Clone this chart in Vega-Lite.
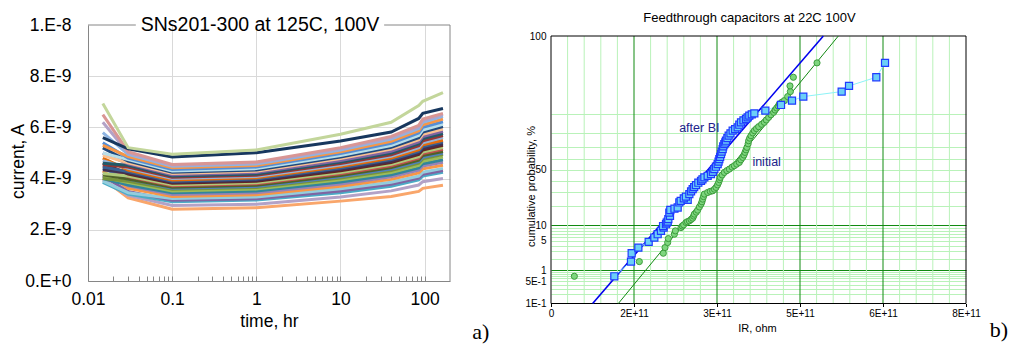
{
  "$schema": "https://vega.github.io/schema/vega-lite/v6.json",
  "padding": {"left": 9, "top": 12, "right": 5, "bottom": 5},
  "background": "white",
  "config": {"view": {"stroke": null}, "font": "Liberation Sans"},
  "spacing": 34,
  "bounds": "full",
  "resolve": {"scale": {"color": "independent"}},
  "datasets": {
    "currents": [
      {"s":"01","t":0.015,"i":4.00e-9},{"s":"01","t":0.03,"i":3.25e-9},{"s":"01","t":0.1,"i":2.80e-9},{"s":"01","t":1,"i":2.86e-9},{"s":"01","t":10,"i":3.12e-9},{"s":"01","t":40,"i":3.30e-9},{"s":"01","t":85,"i":3.50e-9},{"s":"01","t":95,"i":3.62e-9},{"s":"01","t":165,"i":3.74e-9},
      {"s":"02","t":0.015,"i":3.95e-9},{"s":"02","t":0.03,"i":3.35e-9},{"s":"02","t":0.1,"i":2.95e-9},{"s":"02","t":1,"i":3.00e-9},{"s":"02","t":10,"i":3.28e-9},{"s":"02","t":40,"i":3.52e-9},{"s":"02","t":85,"i":3.75e-9},{"s":"02","t":95,"i":3.88e-9},{"s":"02","t":165,"i":4.00e-9},
      {"s":"03","t":0.015,"i":3.85e-9},{"s":"03","t":0.03,"i":3.40e-9},{"s":"03","t":0.1,"i":3.10e-9},{"s":"03","t":1,"i":3.16e-9},{"s":"03","t":10,"i":3.45e-9},{"s":"03","t":40,"i":3.70e-9},{"s":"03","t":85,"i":3.95e-9},{"s":"03","t":95,"i":4.10e-9},{"s":"03","t":165,"i":4.25e-9},
      {"s":"04","t":0.015,"i":4.10e-9},{"s":"04","t":0.03,"i":3.50e-9},{"s":"04","t":0.1,"i":3.15e-9},{"s":"04","t":1,"i":3.21e-9},{"s":"04","t":10,"i":3.52e-9},{"s":"04","t":40,"i":3.78e-9},{"s":"04","t":85,"i":4.02e-9},{"s":"04","t":95,"i":4.17e-9},{"s":"04","t":165,"i":4.32e-9},
      {"s":"05","t":0.015,"i":3.90e-9},{"s":"05","t":0.03,"i":3.45e-9},{"s":"05","t":0.1,"i":3.22e-9},{"s":"05","t":1,"i":3.28e-9},{"s":"05","t":10,"i":3.60e-9},{"s":"05","t":40,"i":3.86e-9},{"s":"05","t":85,"i":4.10e-9},{"s":"05","t":95,"i":4.25e-9},{"s":"05","t":165,"i":4.40e-9},
      {"s":"06","t":0.015,"i":4.30e-9},{"s":"06","t":0.03,"i":3.62e-9},{"s":"06","t":0.1,"i":3.30e-9},{"s":"06","t":1,"i":3.37e-9},{"s":"06","t":10,"i":3.70e-9},{"s":"06","t":40,"i":3.97e-9},{"s":"06","t":85,"i":4.22e-9},{"s":"06","t":95,"i":4.38e-9},{"s":"06","t":165,"i":4.52e-9},
      {"s":"07","t":0.015,"i":4.20e-9},{"s":"07","t":0.03,"i":3.72e-9},{"s":"07","t":0.1,"i":3.38e-9},{"s":"07","t":1,"i":3.45e-9},{"s":"07","t":10,"i":3.79e-9},{"s":"07","t":40,"i":4.07e-9},{"s":"07","t":85,"i":4.33e-9},{"s":"07","t":95,"i":4.49e-9},{"s":"07","t":165,"i":4.64e-9},
      {"s":"08","t":0.015,"i":4.00e-9},{"s":"08","t":0.03,"i":3.75e-9},{"s":"08","t":0.1,"i":3.45e-9},{"s":"08","t":1,"i":3.52e-9},{"s":"08","t":10,"i":3.87e-9},{"s":"08","t":40,"i":4.15e-9},{"s":"08","t":85,"i":4.42e-9},{"s":"08","t":95,"i":4.58e-9},{"s":"08","t":165,"i":4.74e-9},
      {"s":"09","t":0.015,"i":4.05e-9},{"s":"09","t":0.03,"i":3.85e-9},{"s":"09","t":0.1,"i":3.52e-9},{"s":"09","t":1,"i":3.59e-9},{"s":"09","t":10,"i":3.95e-9},{"s":"09","t":40,"i":4.24e-9},{"s":"09","t":85,"i":4.52e-9},{"s":"09","t":95,"i":4.68e-9},{"s":"09","t":165,"i":4.84e-9},
      {"s":"10","t":0.015,"i":4.00e-9},{"s":"10","t":0.03,"i":3.90e-9},{"s":"10","t":0.1,"i":3.58e-9},{"s":"10","t":1,"i":3.65e-9},{"s":"10","t":10,"i":4.02e-9},{"s":"10","t":40,"i":4.32e-9},{"s":"10","t":85,"i":4.60e-9},{"s":"10","t":95,"i":4.77e-9},{"s":"10","t":165,"i":4.94e-9},
      {"s":"11","t":0.015,"i":4.40e-9},{"s":"11","t":0.03,"i":3.98e-9},{"s":"11","t":0.1,"i":3.62e-9},{"s":"11","t":1,"i":3.69e-9},{"s":"11","t":10,"i":4.07e-9},{"s":"11","t":40,"i":4.37e-9},{"s":"11","t":85,"i":4.66e-9},{"s":"11","t":95,"i":4.83e-9},{"s":"11","t":165,"i":5.00e-9},
      {"s":"12","t":0.015,"i":4.15e-9},{"s":"12","t":0.03,"i":3.98e-9},{"s":"12","t":0.1,"i":3.66e-9},{"s":"12","t":1,"i":3.74e-9},{"s":"12","t":10,"i":4.12e-9},{"s":"12","t":40,"i":4.43e-9},{"s":"12","t":85,"i":4.72e-9},{"s":"12","t":95,"i":4.90e-9},{"s":"12","t":165,"i":5.06e-9},
      {"s":"13","t":0.015,"i":4.50e-9},{"s":"13","t":0.03,"i":4.08e-9},{"s":"13","t":0.1,"i":3.72e-9},{"s":"13","t":1,"i":3.80e-9},{"s":"13","t":10,"i":4.19e-9},{"s":"13","t":40,"i":4.50e-9},{"s":"13","t":85,"i":4.80e-9},{"s":"13","t":95,"i":4.98e-9},{"s":"13","t":165,"i":5.15e-9},
      {"s":"14","t":0.015,"i":4.20e-9},{"s":"14","t":0.03,"i":4.10e-9},{"s":"14","t":0.1,"i":3.76e-9},{"s":"14","t":1,"i":3.84e-9},{"s":"14","t":10,"i":4.24e-9},{"s":"14","t":40,"i":4.56e-9},{"s":"14","t":85,"i":4.86e-9},{"s":"14","t":95,"i":5.04e-9},{"s":"14","t":165,"i":5.21e-9},
      {"s":"15","t":0.015,"i":4.60e-9},{"s":"15","t":0.03,"i":4.18e-9},{"s":"15","t":0.1,"i":3.82e-9},{"s":"15","t":1,"i":3.90e-9},{"s":"15","t":10,"i":4.31e-9},{"s":"15","t":40,"i":4.63e-9},{"s":"15","t":85,"i":4.94e-9},{"s":"15","t":95,"i":5.12e-9},{"s":"15","t":165,"i":5.30e-9},
      {"s":"16","t":0.015,"i":4.35e-9},{"s":"16","t":0.03,"i":4.22e-9},{"s":"16","t":0.1,"i":3.86e-9},{"s":"16","t":1,"i":3.94e-9},{"s":"16","t":10,"i":4.36e-9},{"s":"16","t":40,"i":4.68e-9},{"s":"16","t":85,"i":5.00e-9},{"s":"16","t":95,"i":5.18e-9},{"s":"16","t":165,"i":5.36e-9},
      {"s":"17","t":0.015,"i":4.45e-9},{"s":"17","t":0.03,"i":4.28e-9},{"s":"17","t":0.1,"i":3.90e-9},{"s":"17","t":1,"i":3.98e-9},{"s":"17","t":10,"i":4.41e-9},{"s":"17","t":40,"i":4.74e-9},{"s":"17","t":85,"i":5.06e-9},{"s":"17","t":95,"i":5.25e-9},{"s":"17","t":165,"i":5.44e-9},
      {"s":"18","t":0.015,"i":4.80e-9},{"s":"18","t":0.03,"i":4.33e-9},{"s":"18","t":0.1,"i":3.95e-9},{"s":"18","t":1,"i":4.03e-9},{"s":"18","t":10,"i":4.47e-9},{"s":"18","t":40,"i":4.80e-9},{"s":"18","t":85,"i":5.13e-9},{"s":"18","t":95,"i":5.32e-9},{"s":"18","t":165,"i":5.50e-9},
      {"s":"19","t":0.015,"i":4.70e-9},{"s":"19","t":0.03,"i":4.40e-9},{"s":"19","t":0.1,"i":4.00e-9},{"s":"19","t":1,"i":4.08e-9},{"s":"19","t":10,"i":4.53e-9},{"s":"19","t":40,"i":4.87e-9},{"s":"19","t":85,"i":5.21e-9},{"s":"19","t":95,"i":5.40e-9},{"s":"19","t":165,"i":5.60e-9},
      {"s":"20","t":0.015,"i":4.55e-9},{"s":"20","t":0.03,"i":4.45e-9},{"s":"20","t":0.1,"i":4.05e-9},{"s":"20","t":1,"i":4.13e-9},{"s":"20","t":10,"i":4.59e-9},{"s":"20","t":40,"i":4.93e-9},{"s":"20","t":85,"i":5.28e-9},{"s":"20","t":95,"i":5.48e-9},{"s":"20","t":165,"i":5.68e-9},
      {"s":"21","t":0.015,"i":4.60e-9},{"s":"21","t":0.03,"i":4.52e-9},{"s":"21","t":0.1,"i":4.10e-9},{"s":"21","t":1,"i":4.18e-9},{"s":"21","t":10,"i":4.65e-9},{"s":"21","t":40,"i":5.00e-9},{"s":"21","t":85,"i":5.36e-9},{"s":"21","t":95,"i":5.56e-9},{"s":"21","t":165,"i":5.76e-9},
      {"s":"22","t":0.015,"i":5.00e-9},{"s":"22","t":0.03,"i":4.58e-9},{"s":"22","t":0.1,"i":4.15e-9},{"s":"22","t":1,"i":4.24e-9},{"s":"22","t":10,"i":4.71e-9},{"s":"22","t":40,"i":5.07e-9},{"s":"22","t":85,"i":5.43e-9},{"s":"22","t":95,"i":5.64e-9},{"s":"22","t":165,"i":5.85e-9},
      {"s":"23","t":0.015,"i":4.90e-9},{"s":"23","t":0.03,"i":4.62e-9},{"s":"23","t":0.1,"i":4.20e-9},{"s":"23","t":1,"i":4.29e-9},{"s":"23","t":10,"i":4.78e-9},{"s":"23","t":40,"i":5.15e-9},{"s":"23","t":85,"i":5.52e-9},{"s":"23","t":95,"i":5.73e-9},{"s":"23","t":165,"i":5.94e-9},
      {"s":"24","t":0.015,"i":5.20e-9},{"s":"24","t":0.03,"i":4.68e-9},{"s":"24","t":0.1,"i":4.25e-9},{"s":"24","t":1,"i":4.34e-9},{"s":"24","t":10,"i":4.84e-9},{"s":"24","t":40,"i":5.22e-9},{"s":"24","t":85,"i":5.60e-9},{"s":"24","t":95,"i":5.82e-9},{"s":"24","t":165,"i":6.03e-9},
      {"s":"25","t":0.015,"i":5.00e-9},{"s":"25","t":0.03,"i":4.74e-9},{"s":"25","t":0.1,"i":4.30e-9},{"s":"25","t":1,"i":4.39e-9},{"s":"25","t":10,"i":4.90e-9},{"s":"25","t":40,"i":5.29e-9},{"s":"25","t":85,"i":5.68e-9},{"s":"25","t":95,"i":5.90e-9},{"s":"25","t":165,"i":6.12e-9},
      {"s":"26","t":0.015,"i":5.40e-9},{"s":"26","t":0.03,"i":4.80e-9},{"s":"26","t":0.1,"i":4.36e-9},{"s":"26","t":1,"i":4.45e-9},{"s":"26","t":10,"i":4.98e-9},{"s":"26","t":40,"i":5.38e-9},{"s":"26","t":85,"i":5.78e-9},{"s":"26","t":95,"i":6.00e-9},{"s":"26","t":165,"i":6.22e-9},
      {"s":"27","t":0.015,"i":5.30e-9},{"s":"27","t":0.03,"i":4.86e-9},{"s":"27","t":0.1,"i":4.42e-9},{"s":"27","t":1,"i":4.51e-9},{"s":"27","t":10,"i":5.05e-9},{"s":"27","t":40,"i":5.46e-9},{"s":"27","t":85,"i":5.87e-9},{"s":"27","t":95,"i":6.10e-9},{"s":"27","t":165,"i":6.33e-9},
      {"s":"28","t":0.015,"i":5.80e-9},{"s":"28","t":0.03,"i":4.95e-9},{"s":"28","t":0.1,"i":4.48e-9},{"s":"28","t":1,"i":4.57e-9},{"s":"28","t":10,"i":5.12e-9},{"s":"28","t":40,"i":5.54e-9},{"s":"28","t":85,"i":5.96e-9},{"s":"28","t":95,"i":6.20e-9},{"s":"28","t":165,"i":6.43e-9},
      {"s":"29","t":0.015,"i":6.20e-9},{"s":"29","t":0.03,"i":5.00e-9},{"s":"29","t":0.1,"i":4.52e-9},{"s":"29","t":1,"i":4.62e-9},{"s":"29","t":10,"i":5.17e-9},{"s":"29","t":40,"i":5.60e-9},{"s":"29","t":85,"i":6.02e-9},{"s":"29","t":95,"i":6.27e-9},{"s":"29","t":165,"i":6.50e-9},
      {"s":"30","t":0.015,"i":6.50e-9},{"s":"30","t":0.03,"i":5.05e-9},{"s":"30","t":0.1,"i":4.55e-9},{"s":"30","t":1,"i":4.65e-9},{"s":"30","t":10,"i":5.21e-9},{"s":"30","t":40,"i":5.65e-9},{"s":"30","t":85,"i":6.08e-9},{"s":"30","t":95,"i":6.33e-9},{"s":"30","t":165,"i":6.55e-9},
      {"s":"31","t":0.015,"i":5.60e-9},{"s":"31","t":0.03,"i":5.16e-9},{"s":"31","t":0.1,"i":4.84e-9},{"s":"31","t":1,"i":5.01e-9},{"s":"31","t":10,"i":5.47e-9},{"s":"31","t":40,"i":5.82e-9},{"s":"31","t":85,"i":6.35e-9},{"s":"31","t":95,"i":6.55e-9},{"s":"31","t":165,"i":6.74e-9},
      {"s":"32","t":0.015,"i":6.93e-9},{"s":"32","t":0.03,"i":5.21e-9},{"s":"32","t":0.1,"i":4.95e-9},{"s":"32","t":1,"i":5.12e-9},{"s":"32","t":10,"i":5.73e-9},{"s":"32","t":40,"i":6.20e-9},{"s":"32","t":85,"i":6.85e-9},{"s":"32","t":95,"i":7.02e-9},{"s":"32","t":165,"i":7.36e-9}
    ],
    "border": [
      {"t":0.01,"t2":0.037,"i":1e-8,"i2":1e-8},
      {"t":33,"t2":200,"i":1e-8,"i2":1e-8},
      {"t":200,"t2":200,"i":0,"i2":1e-8}
    ],
    "ltitle": [{"t":1.104,"i":1e-8,"label":"SNs201-300 at 125C, 100V"}],
    "alabel": [{"t":464.8,"i":-2.0e-9,"label":"a)"}],
    "vminor": [{"r":3.2e10,"z":-3.0902,"z2":3.0902},{"r":6.4e10,"z":-3.0902,"z2":3.0902},{"r":9.6e10,"z":-3.0902,"z2":3.0902},{"r":1.28e11,"z":-3.0902,"z2":3.0902},{"r":1.92e11,"z":-3.0902,"z2":3.0902},{"r":2.24e11,"z":-3.0902,"z2":3.0902},{"r":2.56e11,"z":-3.0902,"z2":3.0902},{"r":2.88e11,"z":-3.0902,"z2":3.0902},{"r":3.52e11,"z":-3.0902,"z2":3.0902},{"r":3.84e11,"z":-3.0902,"z2":3.0902},{"r":4.16e11,"z":-3.0902,"z2":3.0902},{"r":4.48e11,"z":-3.0902,"z2":3.0902},{"r":5.12e11,"z":-3.0902,"z2":3.0902},{"r":5.44e11,"z":-3.0902,"z2":3.0902},{"r":5.76e11,"z":-3.0902,"z2":3.0902},{"r":6.08e11,"z":-3.0902,"z2":3.0902},{"r":6.72e11,"z":-3.0902,"z2":3.0902},{"r":7.04e11,"z":-3.0902,"z2":3.0902},{"r":7.36e11,"z":-3.0902,"z2":3.0902},{"r":7.68e11,"z":-3.0902,"z2":3.0902}],
    "vmajor": [{"r":1.6e11,"z":-3.0902,"z2":3.0902},{"r":3.2e11,"z":-3.0902,"z2":3.0902},{"r":4.8e11,"z":-3.0902,"z2":3.0902},{"r":6.4e11,"z":-3.0902,"z2":3.0902}],
    "frame": [
      {"r":0,"r2":0,"z":-3.0902,"z2":3.0902},
      {"r":8e11,"r2":8e11,"z":-3.0902,"z2":3.0902},
      {"r":0,"r2":8e11,"z":3.0902,"z2":3.0902},
      {"r":0,"r2":8e11,"z":-3.0902,"z2":-3.0902}
    ],
    "fitbi": [{"r":8.03e10,"z":-3.0902},{"r":5.25e11,"z":3.0902}],
    "fitinit": [{"r":1.298e11,"z":-3.0902},{"r":5.539e11,"z":3.0902}],
    "bi": [
      {"r":1.221e11,"z":-2.461},{"r":1.542e11,"z":-2.122},{"r":1.555e11,"z":-1.929},{"r":1.684e11,"z":-1.798},{"r":1.883e11,"z":-1.667},{"r":1.992e11,"z":-1.566},{"r":2.056e11,"z":-1.489},{"r":2.120e11,"z":-1.412},{"r":2.172e11,"z":-1.335},{"r":2.160e11,"z":-1.300},{"r":2.217e11,"z":-1.258},{"r":2.230e11,"z":-1.219},{"r":2.250e11,"z":-1.200},{"r":2.262e11,"z":-1.142},{"r":2.294e11,"z":-1.065},{"r":2.281e11,"z":-0.988},{"r":2.300e11,"z":-0.930},{"r":2.380e11,"z":-0.900},{"r":2.442e11,"z":-0.872},{"r":2.474e11,"z":-0.756},{"r":2.500e11,"z":-0.720},{"r":2.635e11,"z":-0.694},{"r":2.560e11,"z":-0.660},{"r":2.600e11,"z":-0.620},{"r":2.667e11,"z":-0.563},{"r":2.700e11,"z":-0.500},{"r":2.731e11,"z":-0.448},{"r":2.760e11,"z":-0.400},{"r":2.795e11,"z":-0.355},{"r":2.840e11,"z":-0.300},{"r":2.892e11,"z":-0.255},{"r":2.920e11,"z":-0.220},{"r":2.956e11,"z":-0.177},{"r":3.020e11,"z":-0.140},{"r":3.084e11,"z":-0.100},{"r":3.120e11,"z":-0.050},{"r":3.149e11,"z":0.015},{"r":3.180e11,"z":0.070},{"r":3.213e11,"z":0.131},{"r":3.230e11,"z":0.190},{"r":3.245e11,"z":0.247},{"r":3.260e11,"z":0.300},{"r":3.277e11,"z":0.363},{"r":3.290e11,"z":0.420},{"r":3.309e11,"z":0.478},{"r":3.320e11,"z":0.540},{"r":3.341e11,"z":0.594},{"r":3.360e11,"z":0.630},{"r":3.373e11,"z":0.671},{"r":3.400e11,"z":0.730},{"r":3.425e11,"z":0.787},{"r":3.460e11,"z":0.840},{"r":3.502e11,"z":0.903},{"r":3.550e11,"z":0.940},{"r":3.598e11,"z":0.980},{"r":3.630e11,"z":1.040},{"r":3.663e11,"z":1.096},{"r":3.710e11,"z":1.140},{"r":3.759e11,"z":1.173},{"r":3.790e11,"z":1.210},{"r":3.823e11,"z":1.250},{"r":3.870e11,"z":1.280},{"r":3.920e11,"z":1.304},{"r":4.132e11,"z":1.366},{"r":4.434e11,"z":1.497},{"r":4.646e11,"z":1.597},{"r":4.864e11,"z":1.690},{"r":5.603e11,"z":1.806},{"r":5.745e11,"z":1.937},{"r":6.271e11,"z":2.137},{"r":6.439e11,"z":2.469}
    ],
    "init": [
      {"r":0.450e11,"z":-2.461},{"r":1.703e11,"z":-2.122},{"r":2.165e11,"z":-1.929},{"r":2.198e11,"z":-1.798},{"r":2.249e11,"z":-1.682},{"r":2.262e11,"z":-1.590},{"r":2.378e11,"z":-1.489},{"r":2.397e11,"z":-1.412},{"r":2.506e11,"z":-1.335},{"r":2.530e11,"z":-1.300},{"r":2.557e11,"z":-1.273},{"r":2.602e11,"z":-1.219},{"r":2.630e11,"z":-1.200},{"r":2.667e11,"z":-1.181},{"r":2.700e11,"z":-1.150},{"r":2.731e11,"z":-1.119},{"r":2.750e11,"z":-1.070},{"r":2.763e11,"z":-1.026},{"r":2.800e11,"z":-0.980},{"r":2.827e11,"z":-0.934},{"r":2.860e11,"z":-0.860},{"r":2.892e11,"z":-0.795},{"r":2.910e11,"z":-0.740},{"r":2.924e11,"z":-0.679},{"r":2.940e11,"z":-0.620},{"r":2.956e11,"z":-0.563},{"r":3.020e11,"z":-0.525},{"r":3.070e11,"z":-0.500},{"r":3.116e11,"z":-0.486},{"r":3.150e11,"z":-0.450},{"r":3.181e11,"z":-0.409},{"r":3.210e11,"z":-0.350},{"r":3.232e11,"z":-0.293},{"r":3.250e11,"z":-0.230},{"r":3.264e11,"z":-0.177},{"r":3.300e11,"z":-0.120},{"r":3.341e11,"z":-0.062},{"r":3.390e11,"z":-0.020},{"r":3.438e11,"z":0.015},{"r":3.490e11,"z":0.060},{"r":3.534e11,"z":0.093},{"r":3.580e11,"z":0.130},{"r":3.630e11,"z":0.170},{"r":3.660e11,"z":0.230},{"r":3.695e11,"z":0.285},{"r":3.720e11,"z":0.340},{"r":3.740e11,"z":0.401},{"r":3.760e11,"z":0.460},{"r":3.778e11,"z":0.517},{"r":3.800e11,"z":0.600},{"r":3.810e11,"z":0.671},{"r":3.830e11,"z":0.730},{"r":3.855e11,"z":0.787},{"r":3.890e11,"z":0.850},{"r":3.920e11,"z":0.903},{"r":3.960e11,"z":0.950},{"r":4.003e11,"z":0.995},{"r":4.060e11,"z":1.050},{"r":4.112e11,"z":1.096},{"r":4.150e11,"z":1.150},{"r":4.196e11,"z":1.211},{"r":4.240e11,"z":1.270},{"r":4.292e11,"z":1.327},{"r":4.320e11,"z":1.380},{"r":4.350e11,"z":1.427},{"r":4.380e11,"z":1.470},{"r":4.402e11,"z":1.520},{"r":4.450e11,"z":1.560},{"r":4.498e11,"z":1.597},{"r":4.562e11,"z":1.690},{"r":4.614e11,"z":1.806},{"r":4.607e11,"z":1.937},{"r":4.672e11,"z":2.137},{"r":5.128e11,"z":2.469}
    ],
    "notes": [
      {"r":2.859e11,"z":0.957,"label":"after BI"},
      {"r":4.157e11,"z":0.185,"label":"initial"}
    ],
    "blabel": [{"r":8.636e11,"z":-3.70,"label":"b)"}]
  },
  "hconcat": [
    {
      "width": 362,
      "height": 256,
      "encoding": {
        "x": {
          "field": "t", "type": "quantitative",
          "scale": {"type": "log", "domain": [0.01, 200], "nice": false},
          "axis": {
            "title": "time, hr",
            "values": [0.01,0.02,0.03,0.04,0.05,0.06,0.07,0.08,0.09,0.1,0.2,0.3,0.4,0.5,0.6,0.7,0.8,0.9,1,2,3,4,5,6,7,8,9,10,20,30,40,50,60,70,80,90,100],
            "labelExpr": "indexof([0.01,0.1,1,10,100], datum.value) >= 0 ? format(datum.value, '~g') : ''",
            "labelFlush": false, "labelOverlap": false, "labelBound": false,
            "labelFontSize": 17.5, "labelColor": "#000", "labelPadding": 14, "labelFont": "Liberation Sans",
            "tickSize": -5, "tickColor": "#868686",
            "domainColor": "#868686",
            "grid": true, "gridColor": "#D9D9D9",
            "gridOpacity": {"condition": {"test": "indexof([0.01,0.1,1,10,100], datum.value) >= 0", "value": 1}, "value": 0},
            "titleFontSize": 17.5, "titleFontWeight": "normal", "titleColor": "#000", "titleFont": "Liberation Sans",
            "titleX": 181, "titleY": 40, "titleBaseline": "middle", "titleAlign": "center"
          }
        },
        "y": {
          "field": "i", "type": "quantitative",
          "scale": {"domain": [0, 1e-8], "nice": false},
          "axis": {
            "title": "current, A",
            "values": [0, 2e-9, 4e-9, 6e-9, 8e-9, 1e-8],
            "labelExpr": "replace(format(datum.value, '.0e'), 'e', '.E')",
            "ticks": false, "labelPadding": 17, "labelFontSize": 17.5, "labelColor": "#000", "labelFont": "Liberation Sans",
            "domainColor": "#868686",
            "grid": true, "gridColor": "#D9D9D9",
            "gridOpacity": {"condition": {"test": "datum.value > 9e-9", "value": 0}, "value": 1},
            "titleFontSize": 17.5, "titleFontWeight": "normal", "titleColor": "#000", "titleFont": "Liberation Sans",
            "titleX": -70, "titleY": 136, "titleBaseline": "middle", "titleAlign": "center", "titleAngle": -90
          }
        }
      },
      "layer": [
        {
          "data": {"name": "currents"},
          "mark": {"type": "line", "strokeWidth": 3},
          "encoding": {
            "color": {
              "field": "s", "type": "nominal", "legend": null,
              "scale": {"range": ["#F9A66B","#B3A2C7","#4BACC6","#8064A2","#93CDDD","#F79646","#9983B5","#31859C","#9BBB59","#77933C","#4F81BD","#4F6228","#C0504D","#AFC97A","#632523","#403152","#376092","#E46C0A","#95B3D7","#953735","#215968","#8064A2","#FAC090","#1F497D","#B7DEE8","#558ED5","#F79646","#8EB4E3","#B3A2C7","#D99694","#17375E","#C3D69B"]}
            }
          }
        },
        {
          "data": {"name": "border"},
          "mark": {"type": "rule", "color": "#868686", "strokeWidth": 1},
          "encoding": {"x2": {"field": "t2"}, "y2": {"field": "i2"}}
        },
        {
          "data": {"name": "ltitle"},
          "mark": {"type": "text", "fontSize": 19.5, "baseline": "middle", "align": "center", "color": "#000", "font": "Liberation Sans"},
          "encoding": {"text": {"field": "label"}}
        },
        {
          "data": {"name": "alabel"},
          "mark": {"type": "text", "fontSize": 22, "baseline": "middle", "align": "center", "color": "#000", "font": "Liberation Serif"},
          "encoding": {"text": {"field": "label"}}
        }
      ]
    },
    {
      "width": 415,
      "height": 278.5,
      "title": {"text": "Feedthrough capacitors at 22C 100V", "fontSize": 13, "fontWeight": "normal", "font": "Liberation Sans", "color": "#000", "anchor": "middle", "frame": "group", "dx": -9, "offset": 0},
      "encoding": {
        "x": {
          "field": "r", "type": "quantitative",
          "scale": {"domain": [0, 8e11], "nice": false, "zero": false},
          "axis": {
            "title": "IR, ohm",
            "values": [0,1.6e11,3.2e11,4.8e11,6.4e11,8e11],
            "labelExpr": "datum.value == 0 ? '0' : upper(format(datum.value, '.0e'))",
            "labelFlush": false, "labelOverlap": false, "labelBound": false,
            "labelFontSize": 10, "labelColor": "#000", "labelPadding": 2, "labelFont": "Liberation Sans",
            "tickSize": 3, "tickColor": "#000",
            "domain": false,
            "grid": false,
            "titleFontSize": 11, "titleFontWeight": "normal", "titleColor": "#000", "titleFont": "Liberation Sans",
            "titleX": 206, "titleY": 25, "titleBaseline": "middle", "titleAlign": "center"
          }
        },
        "y": {
          "field": "z", "type": "quantitative",
          "scale": {"domain": [-3.0902, 3.3444], "nice": false, "zero": false},
          "axis": {
            "title": "cumulative probability, %",
            "values": [-3.0902,-2.8782,-2.7478,-2.6521,-2.5758,-2.5121,-2.4573,-2.4089,-2.3656,-2.3263,-2.0537,-1.8808,-1.7507,-1.6449,-1.5548,-1.4758,-1.4051,-1.3408,-1.2816,-0.8416,-0.5244,-0.2533,0,0.2533,0.5244,0.8416,1.2816,3.0902],
            "labelExpr": "datum.value == 3.0902 ? '100' : datum.value == 0 ? '50' : datum.value == -1.2816 ? '10' : datum.value == -1.6449 ? '5' : datum.value == -2.3263 ? '1' : datum.value == -2.5758 ? '5E-1' : datum.value == -3.0902 ? '1E-1' : ''",
            "labelOverlap": false, "labelBound": false, "labelFlush": false,
            "labelFontSize": 10, "labelColor": "#000", "labelPadding": 5, "labelFont": "Liberation Sans",
            "ticks": false, "domain": false,
            "grid": true,
            "gridColor": {"condition": {"test": "datum.value == -2.3263 || datum.value == -1.2816", "value": "#118A11"}, "value": "#B9F2B9"},
            "gridOpacity": {"condition": {"test": "abs(datum.value) > 3", "value": 0}, "value": 1},
            "titleFontSize": 11, "titleFontWeight": "normal", "titleColor": "#000", "titleFont": "Liberation Sans",
            "titleX": -20, "titleY": 161, "titleBaseline": "middle", "titleAlign": "center", "titleAngle": -90
          }
        }
      },
      "layer": [
        {
          "data": {"name": "vminor"},
          "mark": {"type": "rule", "color": "#B9F2B9", "strokeWidth": 1},
          "encoding": {"y2": {"field": "z2"}}
        },
        {
          "data": {"name": "vmajor"},
          "mark": {"type": "rule", "color": "#118A11", "strokeWidth": 1},
          "encoding": {"y2": {"field": "z2"}}
        },
        {
          "data": {"name": "frame"},
          "mark": {"type": "rule", "color": "#000", "strokeWidth": 1},
          "encoding": {"x2": {"field": "r2"}, "y2": {"field": "z2"}}
        },
        {
          "data": {"name": "fitbi"},
          "mark": {"type": "line", "color": "#0000EE", "strokeWidth": 1.6},
          "encoding": {}
        },
        {
          "data": {"name": "fitinit"},
          "mark": {"type": "line", "color": "#118811", "strokeWidth": 1},
          "encoding": {}
        },
        {
          "data": {"name": "bi"},
          "mark": {"type": "line", "color": "#8DF3F7", "strokeWidth": 1},
          "encoding": {"order": {"field": "z", "type": "quantitative"}}
        },
        {
          "data": {"name": "init"},
          "mark": {"type": "point", "shape": "circle", "filled": true, "fill": "#7ED67E", "stroke": "#3C9C3C", "strokeWidth": 1, "size": 38, "opacity": 1, "fillOpacity": 1},
          "encoding": {}
        },
        {
          "data": {"name": "bi"},
          "mark": {"type": "point", "shape": "square", "filled": true, "fill": "#6BCFF7", "stroke": "#1F3BFF", "strokeWidth": 1.2, "size": 50, "opacity": 1, "fillOpacity": 1},
          "encoding": {}
        },
        {
          "data": {"name": "notes"},
          "mark": {"type": "text", "fontSize": 12.5, "color": "#22228A", "baseline": "middle", "align": "center", "font": "Liberation Sans"},
          "encoding": {"text": {"field": "label"}}
        },
        {
          "data": {"name": "blabel"},
          "mark": {"type": "text", "fontSize": 22, "color": "#000", "baseline": "middle", "align": "center", "font": "Liberation Serif"},
          "encoding": {"text": {"field": "label"}}
        }
      ]
    }
  ]
}
